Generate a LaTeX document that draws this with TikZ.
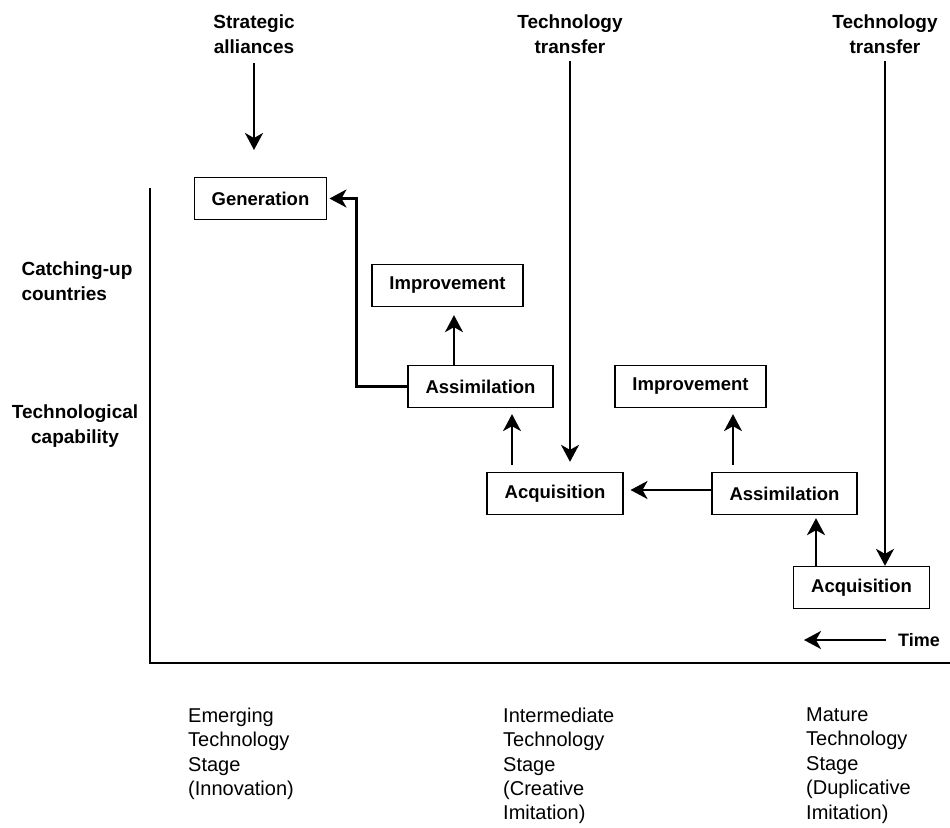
\documentclass[tikz,border=0pt]{standalone}
\usepackage{fontspec}
\setmainfont{Liberation Sans}
\usetikzlibrary{arrows.meta}

\begin{document}
\begin{tikzpicture}[x=1pt, y=-1pt,
    box/.style={draw, line width=1.3pt, inner xsep=17.5pt, inner ysep=0pt, minimum height=42pt, font=\fontsize{18.5}{22}\selectfont\bfseries},
    toplabel/.style={align=center, font=\fontsize{19}{25}\selectfont\bfseries},
    stagelabel/.style={anchor=north west, align=left, inner sep=0pt, font=\fontsize{20}{24.4}\selectfont},
    thinarrow/.style={line width=1.4pt, -{Stealth[length=17pt, width=18pt, inset=5pt]}},
    thickarrow/.style={line width=2.4pt, -{Stealth[length=17pt, width=18pt, inset=5pt]}}]
    \useasboundingbox (0,0) rectangle (950,827);

    % Nodes
    \node[box] (gen) at (260.5, 198.5) {Generation};
    \node[box] (imp1) at (447.5, 285.5) {Improvement};
    \node[box] (assim1) at (480.5, 386.5) {Assimilation};
    \node[box] (acq1) at (555, 493.5) {Acquisition};
    \node[box] (imp2) at (690.5, 386.5) {Improvement};
    \node[box] (assim2) at (784.5, 493.5) {Assimilation};
    \node[box] (acq2) at (861.5, 587.5) {Acquisition};

    % Labels
    \node[toplabel] (sa) at (254, 34) {Strategic\\alliances};
    \node[toplabel] (tt1) at (570, 34) {Technology\\transfer};
    \node[toplabel] (tt2) at (885, 34) {Technology\\transfer};
    \node[toplabel, align=left, anchor=west] (cu) at (18, 281) {Catching-up\\countries};
    \node[toplabel] (tc) at (75, 426) {Technological\\capability};
    \node[anchor=west, inner sep=0pt, font=\fontsize{18}{22}\selectfont\bfseries] (time) at (898, 640) {Time};
    \node[stagelabel] (st1) at (188, 707.5) {Emerging\\Technology\\Stage\\(Innovation)};
    \node[stagelabel] (st2) at (503, 707.5) {Intermediate\\Technology\\Stage\\(Creative\\Imitation)};
    \node[stagelabel] (st3) at (806, 707.5) {Mature\\Technology\\Stage\\(Duplicative\\Imitation)};

    % Axes
    \coordinate (top) at (150, 188);
    \coordinate (origin) at (150, 663);
    \coordinate (right) at (950, 663);
    \draw[line width=2pt] (top) -- (origin) -- (right);

    % Free ends and columns of the connectors
    \coordinate (saend) at (254, 150);
    \coordinate (timeend) at (804, 640);
    \coordinate (c1) at (454, 0);
    \coordinate (c2) at (512, 0);
    \coordinate (c3) at (733, 0);
    \coordinate (c4) at (816, 0);
    \coordinate (r1) at (0, 490);

    % Edges
    \draw[thickarrow, line width=2pt, shorten <=4pt] (sa.south |- 0,59) -- (saend);
    \draw[thickarrow, line width=2pt, shorten <=4pt, shorten >=10pt] (tt1.south) -- (tt1.south |- acq1.north);
    \draw[thickarrow, line width=2pt, shorten <=4pt] (tt2.south) -- (tt2.south |- acq2.north);
    \draw[thickarrow, shorten >=2pt] (assim1.west) -- ++(-51, 0) |- (gen.east);
    \draw[thickarrow, shorten >=8pt] (c1 |- assim1.north) -- (c1 |- imp1.south);
    \draw[thinarrow, shorten <=7pt, shorten >=6pt] (c2 |- acq1.north) -- (c2 |- assim1.south);
    \draw[thickarrow, shorten >=7pt] (assim2.west |- r1) -- (acq1.east |- r1);
    \draw[thinarrow, shorten <=7pt, shorten >=6pt] (c3 |- assim2.north) -- (c3 |- imp2.south);
    \draw[thickarrow, shorten >=3pt] (c4 |- acq2.north) -- (c4 |- assim2.south);
    \draw[thickarrow, shorten <=12pt] (time.west) -- (timeend);
\end{tikzpicture}
\end{document}
